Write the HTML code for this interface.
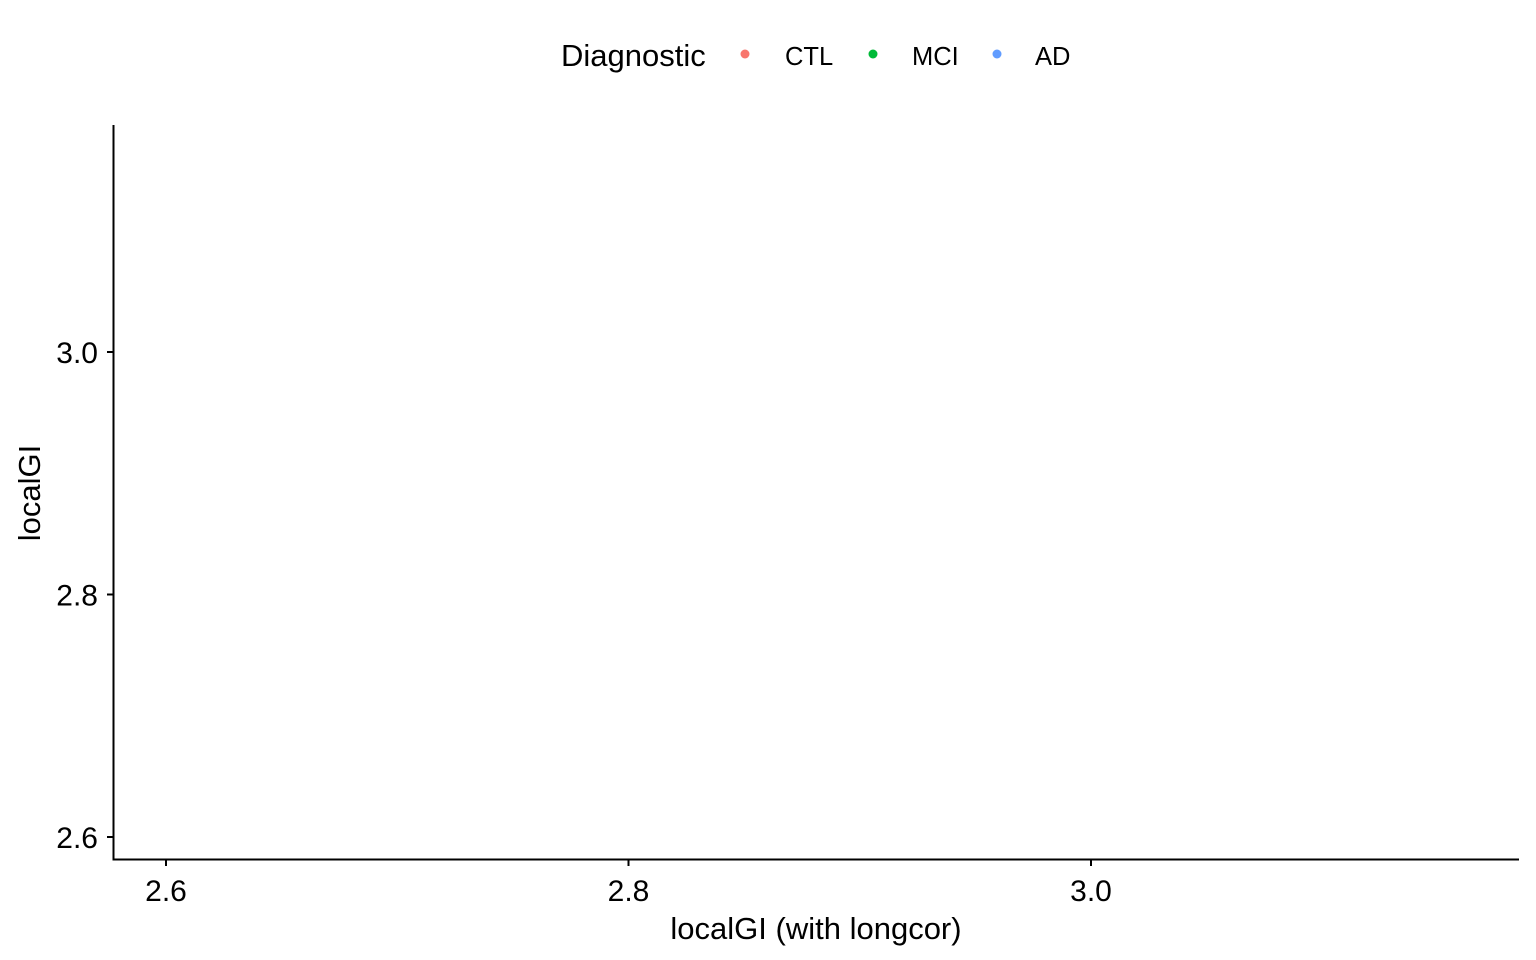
<!DOCTYPE html>
<html><head><meta charset="utf-8">
<style>
html,body{margin:0;padding:0;background:#fff;}
svg{display:block;font-family:"Liberation Sans",Arial,sans-serif;}
</style></head>
<body>
<svg id="chart" width="1536" height="960">
  <g id="legend">
    <text x="561" y="66" font-size="31" fill="#000">Diagnostic</text>
    <g>
      <circle cx="745" cy="54" r="4.5" fill="#F8766D"/>
      <text x="785" y="65" font-size="25.5" fill="#000">CTL</text>
    </g>
    <g>
      <circle cx="873" cy="54" r="4.5" fill="#00BA38"/>
      <text x="912" y="65" font-size="25.5" fill="#000">MCI</text>
    </g>
    <g>
      <circle cx="997" cy="54" r="4.5" fill="#619CFF"/>
      <text x="1035" y="65" font-size="25.5" fill="#000">AD</text>
    </g>
  </g>
  <g id="axes"></g>
  <g id="points"></g>
  <text x="816" y="939" font-size="31" text-anchor="middle" fill="#000">localGI (with longcor)</text>
  <text transform="translate(40,493) rotate(-90)" font-size="31" text-anchor="middle" fill="#000">localGI</text>
</svg>
<script>
const xTicks = [2.6, 2.8, 3.0];
const yTicks = [2.6, 2.8, 3.0];
const xTickLabels = ["2.6", "2.8", "3.0"];
const yTickLabels = ["2.6", "2.8", "3.0"];
const groups = ["CTL", "MCI", "AD"];
const ctlX = [], ctlY = [];
const mciX = [], mciY = [];
const adX = [], adY = [];

const NS = "http://www.w3.org/2000/svg";
const xs = v => 166 + (v - 2.6) / 0.2 * 462.5;
const ys = v => 837 - (v - 2.6) / 0.2 * 242.5;
const axes = document.getElementById('axes');
function mk(tag, attrs, parent){const e=document.createElementNS(NS,tag);for(const k in attrs)e.setAttribute(k,attrs[k]);parent.appendChild(e);return e;}
const yl = mk('line',{x1:113.5,y1:125,x2:113.5,y2:860,stroke:'#000','stroke-width':2},axes);


const xl = mk('line',{x1:112.5,y1:859.5,x2:1519,y2:859.5,stroke:'#000','stroke-width':2},axes);


xTicks.forEach((v,i)=>{
  const t = mk('line',{x1:xs(v),y1:860,x2:xs(v),y2:866,stroke:'#000','stroke-width':2},axes);
  
  
  const l = mk('text',{x:xs(v),y:901,'font-size':30,'text-anchor':'middle',fill:'#000'},axes);
  l.textContent = xTickLabels[i];
  
  
});
yTicks.forEach((v,i)=>{
  const t = mk('line',{x1:107,y1:ys(v),x2:113,y2:ys(v),stroke:'#000','stroke-width':2},axes);
  
  
  const l = mk('text',{x:98,y:ys(v)+11,'font-size':30,'text-anchor':'end',fill:'#000'},axes);
  l.textContent = yTickLabels[i];
  
  
});
const pts = document.getElementById('points');
[[ctlX,ctlY,'#F8766D'],[mciX,mciY,'#00BA38'],[adX,adY,'#619CFF']].forEach(([X,Y,c])=>{
  X.forEach((v,i)=>{
    const p = mk('circle',{cx:xs(v),cy:ys(Y[i]),r:4.5,fill:c},pts);
    
    
  });
});
</script>
</body></html>
